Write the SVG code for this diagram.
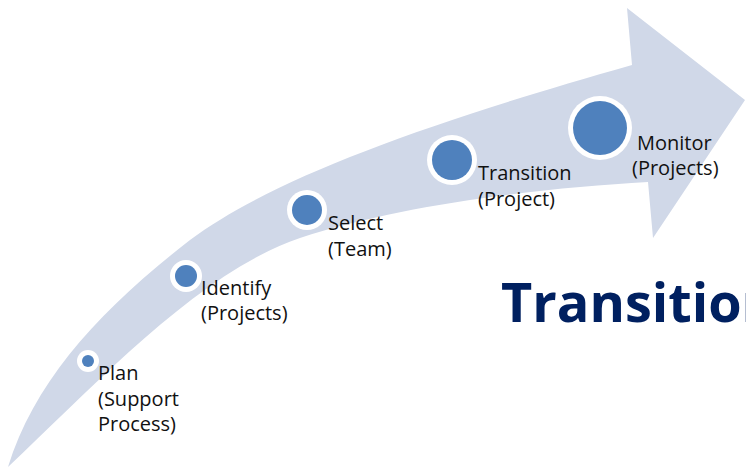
<svg xmlns="http://www.w3.org/2000/svg" width="746" height="471" viewBox="0 0 746 471">
<style>
.lbl{font-family:"Open Sans","Liberation Sans",sans-serif;font-size:20px;fill:#111111}
.ring{fill:#ffffff}
.dot{fill:#4f81bd}
.title{font-family:"Open Sans","Liberation Sans",sans-serif;font-size:54px;font-weight:bold;fill:#002060}
</style>
<rect width="746" height="471" fill="#ffffff"/>
<g id="arrow">
<path d="M8,467 C35,380 100,310 190,240 C270,180 420,125 632,65 L627,8 L745,100 L653,238 L648,182 C540,188 400,205 300,238 C200,272 100,380 8,467 Z" fill="#d0d8e8"/>
</g>
<g id="connectors"></g>
<g id="plan">
<circle class="ring" cx="88" cy="361" r="11"/>
<circle class="dot" cx="88" cy="361" r="6"/>
<text class="lbl" x="98" y="380">Plan</text>
<text class="lbl" x="98" y="405.5">(Support</text>
<text class="lbl" x="98" y="431">Process)</text>
</g>
<g id="identify">
<circle class="ring" cx="186" cy="276" r="16"/>
<circle class="dot" cx="186" cy="276" r="11"/>
<text class="lbl" x="201" y="295">Identify</text>
<text class="lbl" x="201" y="320">(Projects)</text>
</g>
<g id="select">
<circle class="ring" cx="307" cy="210" r="20"/>
<circle class="dot" cx="307" cy="210" r="15"/>
<text class="lbl" x="328" y="229.5">Select</text>
<text class="lbl" x="328" y="256">(Team)</text>
</g>
<g id="transition">
<circle class="ring" cx="452" cy="160" r="25"/>
<circle class="dot" cx="452" cy="160" r="20"/>
<text class="lbl" x="478" y="179.5">Transition</text>
<text class="lbl" x="478" y="205.5">(Project)</text>
</g>
<g id="monitor">
<circle class="ring" cx="600" cy="128" r="32"/>
<circle class="dot" cx="600" cy="128" r="27"/>
<text class="lbl" x="637" y="150">Monitor</text>
<text class="lbl" x="632" y="175">(Projects)</text>
</g>
<g id="heading">
<text class="title" x="501" y="322">Transition</text>
</g>
</svg>
